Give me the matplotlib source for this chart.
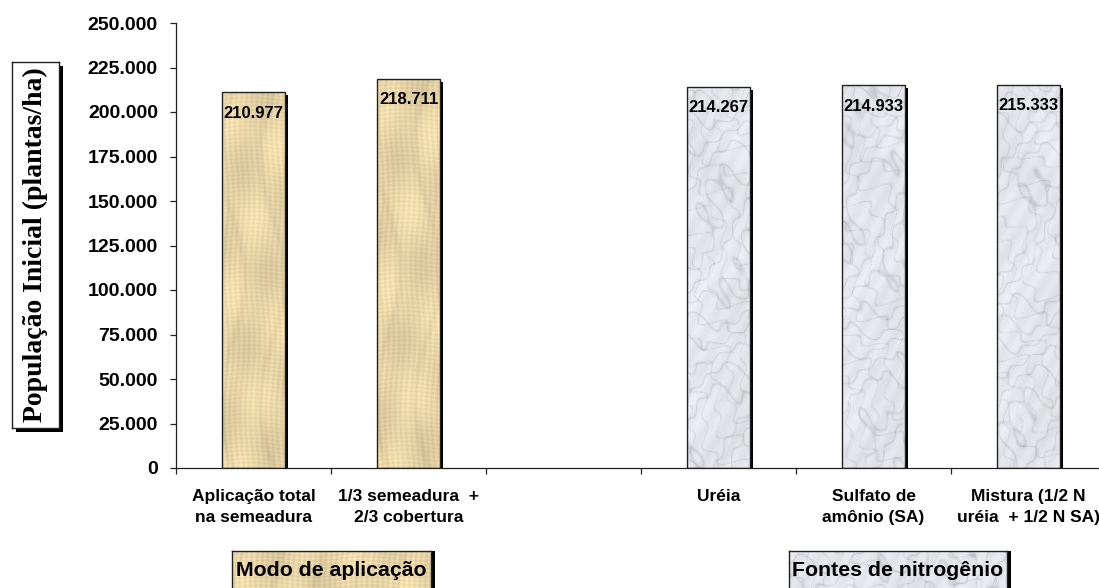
import numpy as np
import matplotlib
matplotlib.use("Agg")
import matplotlib.pyplot as plt
from matplotlib.patches import Rectangle
from matplotlib.transforms import ScaledTranslation

# ---- data -------------------------------------------------------------
categories = [
    "Aplicação total\nna semeadura",
    "1/3 semeadura  +\n2/3 cobertura",
    "",
    "Uréia",
    "Sulfato de\namônio (SA)",
    "Mistura (1/2 N\nuréia  + 1/2 N SA)",
]
values = [210977, 218711, None, 214267, 214933, 215333]
groups = ["modo", "modo", None, "fonte", "fonte", "fonte"]
group_titles = {"modo": "Modo de aplicação", "fonte": "Fontes de nitrogênio"}
y_label = "População Inicial (plantas/ha)"
y_ticks = list(range(0, 250001, 25000))

W, H = 1099, 588
SANS = ["Liberation Sans", "Arial", "DejaVu Sans"]
SERIF = ["Liberation Serif", "Times New Roman", "DejaVu Serif"]
plt.rcParams["font.family"] = SANS


def fmt(v):
    return f"{v:,.0f}".replace(",", ".")


# ---- procedural fills -------------------------------------------------
def papyrus(h, w):
    yy, xx = np.mgrid[0:h, 0:w].astype(float)
    base = np.array([0.91, 0.835, 0.655])
    f = (0.030 * np.sin(2 * np.pi * (xx / 5.3 + 0.4 * np.sin(yy / 23.0)))
         + 0.025 * np.sin(2 * np.pi * (yy / 4.1 + 0.5 * np.sin(xx / 17.0)))
         + 0.030 * np.sin(xx / 9.0 + yy / 31.0)
         + 0.025 * np.sin(yy / 14.0 - xx / 23.0)
         - 0.040 * np.clip(np.sin(xx / 6.5 + 2.0 * np.sin(yy / 40.0)), 0, 1) ** 6)
    img = base[None, None, :] * (1 + f[..., None])
    return np.clip(img, 0, 1)


def marble(h, w, phase=0.0):
    yy, xx = np.mgrid[0:h, 0:w].astype(float)
    t = (xx / 45.0 + yy / 30.0 + phase
         + 0.9 * np.sin(yy / 37.0 - xx / 53.0)
         + 0.45 * np.sin(xx / 11.0 + yy / 17.0)
         + 0.2 * np.sin(xx / 4.3 - yy / 6.1))
    vein = (1 - np.abs(np.sin(np.pi * t))) ** 6
    t2 = (-xx / 25.0 + yy / 41.0 + 0.5 * phase
          + 0.6 * np.sin(xx / 15.0 + yy / 23.0)
          + 0.25 * np.sin(yy / 5.0 + xx / 7.0))
    vein2 = (1 - np.abs(np.sin(np.pi * t2))) ** 10
    cloud = 0.5 + 0.5 * np.sin(xx / 19.0 + 1.7 * np.sin(yy / 29.0)) * np.sin(yy / 43.0)
    light = (0.93 - 0.11 * vein - 0.10 * vein2 - 0.04 * cloud
             + 0.015 * np.sin(xx / 3.0 + yy / 5.0))
    img = np.stack([light * 0.99, light * 0.995, light * 1.015], -1)
    return np.clip(img, 0, 1)


def texture(kind, h, w, phase=0.0):
    return papyrus(h, w) if kind == "modo" else marble(h, w, phase)


# ---- figure / axes ----------------------------------------------------
fig = plt.figure(figsize=(W / 100, H / 100), dpi=100)
fig.patch.set_facecolor("white")


def fx(px):
    return px / W


def fy(py):
    return 1 - py / H


ax_left, ax_right, ax_top, ax_bottom = 176, 1106, 23, 468
ax = fig.add_axes([fx(ax_left), fy(ax_bottom),
                   fx(ax_right - ax_left), (ax_bottom - ax_top) / H])
ax.set_facecolor("none")

x = np.arange(len(categories))
bar_w = 0.405
shadow = ax.transData + ScaledTranslation(3.5 / 100, -3.0 / 100, fig.dpi_scale_trans)

for i, (v, g) in enumerate(zip(values, groups)):
    if v is None:
        continue
    left = x[i] - bar_w / 2
    # drop shadow
    ax.add_patch(Rectangle((left, 0), bar_w, v, facecolor="black",
                           edgecolor="none", transform=shadow, zorder=1))
    # textured fill clipped to the bar
    outline = Rectangle((left, 0), bar_w, v, facecolor="none",
                        edgecolor="#222222", linewidth=1.0, zorder=3)
    ax.add_patch(outline)
    im = ax.imshow(texture(g, 380, 64, phase=0.37 * i),
                   extent=(left, left + bar_w, 0, v), aspect="auto",
                   origin="upper", interpolation="bilinear", zorder=2)
    im.set_clip_path(outline)
    ax.annotate(fmt(v), (x[i], v), xytext=(0, -9.5), textcoords="offset points",
                ha="center", va="top", fontsize=12, fontweight="bold",
                color="black", zorder=4, annotation_clip=False)

ax.set_xlim(-0.5, len(categories) - 0.5)
ax.set_ylim(0, 250000)

ax.set_yticks(y_ticks)
ax.set_yticklabels([fmt(t) for t in y_ticks], fontsize=14, fontweight="bold")
ax.tick_params(axis="y", direction="out", length=4.5, width=0.9, pad=8.5,
               color="#222222")

ax.set_xticks(x)
ax.set_xticklabels(categories, fontsize=12.5, fontweight="bold", linespacing=1.5)
ax.set_xticks(np.arange(-0.5, len(categories) - 0.5, 1.0), minor=True)
ax.tick_params(axis="x", which="major", length=0, pad=15)
ax.tick_params(axis="x", which="minor", direction="out", length=4.5,
               width=0.9, color="#222222")

for s in ("top", "right"):
    ax.spines[s].set_visible(False)
for s in ("left", "bottom"):
    ax.spines[s].set_linewidth(0.9)
    ax.spines[s].set_color("#222222")


# ---- boxed labels -----------------------------------------------------
def boxed_label(x0, y0, x1, y1, kind, shadow_dx=4, shadow_dy=4):
    fig.patches.append(Rectangle((fx(x0 + shadow_dx), fy(y1 + shadow_dy)),
                                 fx(x1 - x0), (y1 - y0) / H,
                                 transform=fig.transFigure, facecolor="black",
                                 edgecolor="none", zorder=1))
    bax = fig.add_axes([fx(x0), fy(y1), fx(x1 - x0), (y1 - y0) / H])
    bax.set_zorder(2)
    bax.set_xlim(0, 1)
    bax.set_ylim(0, 1)
    if kind is None:
        bax.set_facecolor("white")
    else:
        bax.imshow(texture(kind, int(y1 - y0), int(x1 - x0), phase=0.2),
                   extent=(0, 1, 0, 1), aspect="auto", interpolation="bilinear")
    bax.set_xticks([])
    bax.set_yticks([])
    for sp in bax.spines.values():
        sp.set_linewidth(1.0)
        sp.set_color("#222222")
    return bax


ybox = boxed_label(12, 62, 59, 428, None)
ybox.text(0.5, 0.5, y_label, rotation=90, ha="center", va="center",
          fontsize=20, fontweight="bold", family=SERIF,
          transform=ybox.transAxes)

mbox = boxed_label(232, 551, 431, 594, "modo", shadow_dy=0)
mbox.text(0.5, 1 - (568.5 - 551) / 43, group_titles["modo"], ha="center",
          va="center_baseline", fontsize=15.3, fontweight="bold",
          transform=mbox.transAxes)

fbox = boxed_label(789, 551, 1007, 594, "fonte", shadow_dy=0)
fbox.text(0.5, 1 - (568.5 - 551) / 43, group_titles["fonte"], ha="center",
          va="center_baseline", fontsize=15.3, fontweight="bold",
          transform=fbox.transAxes)

fig.savefig("out.png", dpi=100)
